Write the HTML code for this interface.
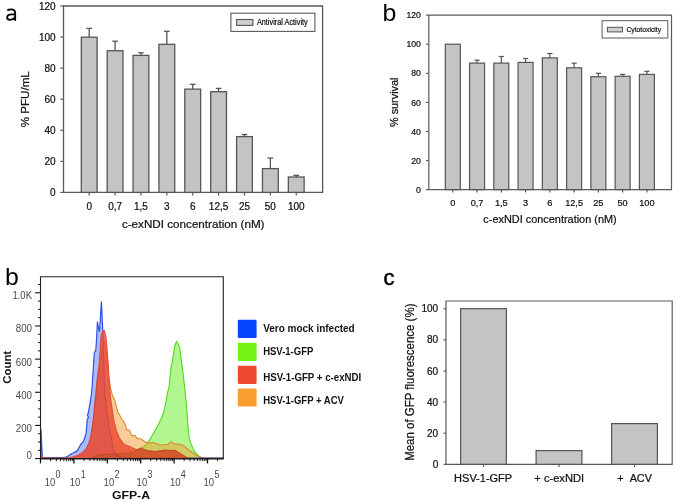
<!DOCTYPE html>
<html><head><meta charset="utf-8"><style>
html,body{margin:0;padding:0;background:#fff;}
svg{display:block;font-family:"Liberation Sans", sans-serif;will-change:transform;}
text.t{stroke:#111;stroke-width:0.22px;}
</style></head><body>
<svg width="675" height="502" viewBox="0 0 675 502">
<rect width="675" height="502" fill="#fff"/>
<path d="M63.5,6.0 H322.6 V192.4 H63.5 Z" fill="none" stroke="#5a5a5a" stroke-width="1.3"/>
<line x1="60.30" y1="192.40" x2="63.50" y2="192.40" stroke="#5a5a5a" stroke-width="1.2"/>
<text class="t" x="55.60" y="196.00" font-size="10" text-anchor="end" fill="#111" font-weight="normal" >0</text>
<line x1="60.30" y1="161.33" x2="63.50" y2="161.33" stroke="#5a5a5a" stroke-width="1.2"/>
<text class="t" x="55.60" y="164.93" font-size="10" text-anchor="end" fill="#111" font-weight="normal" >20</text>
<line x1="60.30" y1="130.27" x2="63.50" y2="130.27" stroke="#5a5a5a" stroke-width="1.2"/>
<text class="t" x="55.60" y="133.87" font-size="10" text-anchor="end" fill="#111" font-weight="normal" >40</text>
<line x1="60.30" y1="99.20" x2="63.50" y2="99.20" stroke="#5a5a5a" stroke-width="1.2"/>
<text class="t" x="55.60" y="102.80" font-size="10" text-anchor="end" fill="#111" font-weight="normal" >60</text>
<line x1="60.30" y1="68.13" x2="63.50" y2="68.13" stroke="#5a5a5a" stroke-width="1.2"/>
<text class="t" x="55.60" y="71.73" font-size="10" text-anchor="end" fill="#111" font-weight="normal" >80</text>
<line x1="60.30" y1="37.07" x2="63.50" y2="37.07" stroke="#5a5a5a" stroke-width="1.2"/>
<text class="t" x="55.60" y="40.67" font-size="10" text-anchor="end" fill="#111" font-weight="normal" >100</text>
<line x1="60.30" y1="6.00" x2="63.50" y2="6.00" stroke="#5a5a5a" stroke-width="1.2"/>
<text class="t" x="55.60" y="9.60" font-size="10" text-anchor="end" fill="#111" font-weight="normal" >120</text>
<line x1="89.20" y1="37.20" x2="89.20" y2="28.40" stroke="#555555" stroke-width="1.3"/>
<line x1="86.40" y1="28.40" x2="92.00" y2="28.40" stroke="#555555" stroke-width="1.3"/>
<rect x="81.30" y="37.20" width="15.80" height="155.20" fill="#c4c4c4" stroke="#555555" stroke-width="1.3" />
<line x1="89.20" y1="192.40" x2="89.20" y2="195.60" stroke="#5a5a5a" stroke-width="1.2"/>
<text class="t" x="89.20" y="210.10" font-size="10" text-anchor="middle" fill="#111" font-weight="normal" >0</text>
<line x1="115.08" y1="50.70" x2="115.08" y2="41.20" stroke="#555555" stroke-width="1.3"/>
<line x1="112.28" y1="41.20" x2="117.88" y2="41.20" stroke="#555555" stroke-width="1.3"/>
<rect x="107.18" y="50.70" width="15.80" height="141.70" fill="#c4c4c4" stroke="#555555" stroke-width="1.3" />
<line x1="115.08" y1="192.40" x2="115.08" y2="195.60" stroke="#5a5a5a" stroke-width="1.2"/>
<text class="t" x="115.08" y="210.10" font-size="10" text-anchor="middle" fill="#111" font-weight="normal" >0,7</text>
<line x1="140.96" y1="55.40" x2="140.96" y2="52.80" stroke="#555555" stroke-width="1.3"/>
<line x1="138.16" y1="52.80" x2="143.76" y2="52.80" stroke="#555555" stroke-width="1.3"/>
<rect x="133.06" y="55.40" width="15.80" height="137.00" fill="#c4c4c4" stroke="#555555" stroke-width="1.3" />
<line x1="140.96" y1="192.40" x2="140.96" y2="195.60" stroke="#5a5a5a" stroke-width="1.2"/>
<text class="t" x="140.96" y="210.10" font-size="10" text-anchor="middle" fill="#111" font-weight="normal" >1,5</text>
<line x1="166.84" y1="44.30" x2="166.84" y2="31.30" stroke="#555555" stroke-width="1.3"/>
<line x1="164.04" y1="31.30" x2="169.64" y2="31.30" stroke="#555555" stroke-width="1.3"/>
<rect x="158.94" y="44.30" width="15.80" height="148.10" fill="#c4c4c4" stroke="#555555" stroke-width="1.3" />
<line x1="166.84" y1="192.40" x2="166.84" y2="195.60" stroke="#5a5a5a" stroke-width="1.2"/>
<text class="t" x="166.84" y="210.10" font-size="10" text-anchor="middle" fill="#111" font-weight="normal" >3</text>
<line x1="192.72" y1="89.10" x2="192.72" y2="84.30" stroke="#555555" stroke-width="1.3"/>
<line x1="189.92" y1="84.30" x2="195.52" y2="84.30" stroke="#555555" stroke-width="1.3"/>
<rect x="184.82" y="89.10" width="15.80" height="103.30" fill="#c4c4c4" stroke="#555555" stroke-width="1.3" />
<line x1="192.72" y1="192.40" x2="192.72" y2="195.60" stroke="#5a5a5a" stroke-width="1.2"/>
<text class="t" x="192.72" y="210.10" font-size="10" text-anchor="middle" fill="#111" font-weight="normal" >6</text>
<line x1="218.60" y1="91.70" x2="218.60" y2="88.40" stroke="#555555" stroke-width="1.3"/>
<line x1="215.80" y1="88.40" x2="221.40" y2="88.40" stroke="#555555" stroke-width="1.3"/>
<rect x="210.70" y="91.70" width="15.80" height="100.70" fill="#c4c4c4" stroke="#555555" stroke-width="1.3" />
<line x1="218.60" y1="192.40" x2="218.60" y2="195.60" stroke="#5a5a5a" stroke-width="1.2"/>
<text class="t" x="218.60" y="210.10" font-size="10" text-anchor="middle" fill="#111" font-weight="normal" >12,5</text>
<line x1="244.48" y1="136.60" x2="244.48" y2="134.50" stroke="#555555" stroke-width="1.3"/>
<line x1="241.68" y1="134.50" x2="247.28" y2="134.50" stroke="#555555" stroke-width="1.3"/>
<rect x="236.58" y="136.60" width="15.80" height="55.80" fill="#c4c4c4" stroke="#555555" stroke-width="1.3" />
<line x1="244.48" y1="192.40" x2="244.48" y2="195.60" stroke="#5a5a5a" stroke-width="1.2"/>
<text class="t" x="244.48" y="210.10" font-size="10" text-anchor="middle" fill="#111" font-weight="normal" >25</text>
<line x1="270.36" y1="168.60" x2="270.36" y2="158.10" stroke="#555555" stroke-width="1.3"/>
<line x1="267.56" y1="158.10" x2="273.16" y2="158.10" stroke="#555555" stroke-width="1.3"/>
<rect x="262.46" y="168.60" width="15.80" height="23.80" fill="#c4c4c4" stroke="#555555" stroke-width="1.3" />
<line x1="270.36" y1="192.40" x2="270.36" y2="195.60" stroke="#5a5a5a" stroke-width="1.2"/>
<text class="t" x="270.36" y="210.10" font-size="10" text-anchor="middle" fill="#111" font-weight="normal" >50</text>
<line x1="296.24" y1="177.00" x2="296.24" y2="175.30" stroke="#555555" stroke-width="1.3"/>
<line x1="293.44" y1="175.30" x2="299.04" y2="175.30" stroke="#555555" stroke-width="1.3"/>
<rect x="288.34" y="177.00" width="15.80" height="15.40" fill="#c4c4c4" stroke="#555555" stroke-width="1.3" />
<line x1="296.24" y1="192.40" x2="296.24" y2="195.60" stroke="#5a5a5a" stroke-width="1.2"/>
<text class="t" x="296.24" y="210.10" font-size="10" text-anchor="middle" fill="#111" font-weight="normal" >100</text>
<text class="t" x="193.20" y="228.30" font-size="11.6" text-anchor="middle" fill="#111" font-weight="normal" textLength="142.60" lengthAdjust="spacingAndGlyphs" >c-exNDI concentration (nM)</text>
<text transform="translate(28.9,99.2) rotate(-90)" font-size="11.8" text-anchor="middle" class="t" fill="#111" textLength="56" lengthAdjust="spacingAndGlyphs">% PFU/mL</text>
<rect x="230.90" y="13.20" width="84.00" height="18.20" fill="#fff" stroke="#5a5a5a" stroke-width="1.1" />
<rect x="236.60" y="19.50" width="16.30" height="5.90" fill="#cfcfcf" stroke="#555555" stroke-width="1.1" />
<text class="t" x="256.90" y="25.00" font-size="8.2" text-anchor="start" fill="#111" font-weight="normal" textLength="50.80" lengthAdjust="spacingAndGlyphs" >Antiviral Activity</text>
<path d="M7.3,10.6 C8.4,9.7 9.6,9.35 11.0,9.35 C13.6,9.35 15.15,10.6 15.15,12.9 V20.8 M15.15,14.4 H11.8 C8.6,14.4 7.15,15.6 7.15,17.5 C7.15,19.0 8.3,19.85 10.1,19.85 C12.2,19.85 14.0,18.9 15.15,17.3" fill="none" stroke="#000" stroke-width="1.9"/>
<path d="M428.8,15.2 H671.5 V189.6 H428.8 Z" fill="none" stroke="#5a5a5a" stroke-width="1.2"/>
<line x1="426.00" y1="189.60" x2="428.80" y2="189.60" stroke="#5a5a5a" stroke-width="1.2"/>
<text class="t" x="420.90" y="192.70" font-size="8.7" text-anchor="end" fill="#111" font-weight="normal" >0</text>
<line x1="426.00" y1="160.53" x2="428.80" y2="160.53" stroke="#5a5a5a" stroke-width="1.2"/>
<text class="t" x="420.90" y="163.63" font-size="8.7" text-anchor="end" fill="#111" font-weight="normal" >20</text>
<line x1="426.00" y1="131.47" x2="428.80" y2="131.47" stroke="#5a5a5a" stroke-width="1.2"/>
<text class="t" x="420.90" y="134.57" font-size="8.7" text-anchor="end" fill="#111" font-weight="normal" >40</text>
<line x1="426.00" y1="102.40" x2="428.80" y2="102.40" stroke="#5a5a5a" stroke-width="1.2"/>
<text class="t" x="420.90" y="105.50" font-size="8.7" text-anchor="end" fill="#111" font-weight="normal" >60</text>
<line x1="426.00" y1="73.33" x2="428.80" y2="73.33" stroke="#5a5a5a" stroke-width="1.2"/>
<text class="t" x="420.90" y="76.43" font-size="8.7" text-anchor="end" fill="#111" font-weight="normal" >80</text>
<line x1="426.00" y1="44.27" x2="428.80" y2="44.27" stroke="#5a5a5a" stroke-width="1.2"/>
<text class="t" x="420.90" y="47.37" font-size="8.7" text-anchor="end" fill="#111" font-weight="normal" >100</text>
<line x1="426.00" y1="15.20" x2="428.80" y2="15.20" stroke="#5a5a5a" stroke-width="1.2"/>
<text class="t" x="420.90" y="18.30" font-size="8.7" text-anchor="end" fill="#111" font-weight="normal" >120</text>
<rect x="445.30" y="44.20" width="15.00" height="145.40" fill="#c4c4c4" stroke="#555555" stroke-width="1.2" />
<line x1="452.80" y1="189.60" x2="452.80" y2="192.40" stroke="#5a5a5a" stroke-width="1.2"/>
<text class="t" x="452.80" y="205.80" font-size="9.2" text-anchor="middle" fill="#111" font-weight="normal" >0</text>
<line x1="477.06" y1="63.10" x2="477.06" y2="60.20" stroke="#555555" stroke-width="1.2"/>
<line x1="474.46" y1="60.20" x2="479.66" y2="60.20" stroke="#555555" stroke-width="1.2"/>
<rect x="469.56" y="63.10" width="15.00" height="126.50" fill="#c4c4c4" stroke="#555555" stroke-width="1.2" />
<line x1="477.06" y1="189.60" x2="477.06" y2="192.40" stroke="#5a5a5a" stroke-width="1.2"/>
<text class="t" x="477.06" y="205.80" font-size="9.2" text-anchor="middle" fill="#111" font-weight="normal" >0,7</text>
<line x1="501.32" y1="63.10" x2="501.32" y2="56.50" stroke="#555555" stroke-width="1.2"/>
<line x1="498.72" y1="56.50" x2="503.92" y2="56.50" stroke="#555555" stroke-width="1.2"/>
<rect x="493.82" y="63.10" width="15.00" height="126.50" fill="#c4c4c4" stroke="#555555" stroke-width="1.2" />
<line x1="501.32" y1="189.60" x2="501.32" y2="192.40" stroke="#5a5a5a" stroke-width="1.2"/>
<text class="t" x="501.32" y="205.80" font-size="9.2" text-anchor="middle" fill="#111" font-weight="normal" >1,5</text>
<line x1="525.58" y1="62.40" x2="525.58" y2="58.50" stroke="#555555" stroke-width="1.2"/>
<line x1="522.98" y1="58.50" x2="528.18" y2="58.50" stroke="#555555" stroke-width="1.2"/>
<rect x="518.08" y="62.40" width="15.00" height="127.20" fill="#c4c4c4" stroke="#555555" stroke-width="1.2" />
<line x1="525.58" y1="189.60" x2="525.58" y2="192.40" stroke="#5a5a5a" stroke-width="1.2"/>
<text class="t" x="525.58" y="205.80" font-size="9.2" text-anchor="middle" fill="#111" font-weight="normal" >3</text>
<line x1="549.84" y1="57.90" x2="549.84" y2="53.50" stroke="#555555" stroke-width="1.2"/>
<line x1="547.24" y1="53.50" x2="552.44" y2="53.50" stroke="#555555" stroke-width="1.2"/>
<rect x="542.34" y="57.90" width="15.00" height="131.70" fill="#c4c4c4" stroke="#555555" stroke-width="1.2" />
<line x1="549.84" y1="189.60" x2="549.84" y2="192.40" stroke="#5a5a5a" stroke-width="1.2"/>
<text class="t" x="549.84" y="205.80" font-size="9.2" text-anchor="middle" fill="#111" font-weight="normal" >6</text>
<line x1="574.10" y1="67.80" x2="574.10" y2="63.20" stroke="#555555" stroke-width="1.2"/>
<line x1="571.50" y1="63.20" x2="576.70" y2="63.20" stroke="#555555" stroke-width="1.2"/>
<rect x="566.60" y="67.80" width="15.00" height="121.80" fill="#c4c4c4" stroke="#555555" stroke-width="1.2" />
<line x1="574.10" y1="189.60" x2="574.10" y2="192.40" stroke="#5a5a5a" stroke-width="1.2"/>
<text class="t" x="574.10" y="205.80" font-size="9.2" text-anchor="middle" fill="#111" font-weight="normal" >12,5</text>
<line x1="598.36" y1="76.70" x2="598.36" y2="73.30" stroke="#555555" stroke-width="1.2"/>
<line x1="595.76" y1="73.30" x2="600.96" y2="73.30" stroke="#555555" stroke-width="1.2"/>
<rect x="590.86" y="76.70" width="15.00" height="112.90" fill="#c4c4c4" stroke="#555555" stroke-width="1.2" />
<line x1="598.36" y1="189.60" x2="598.36" y2="192.40" stroke="#5a5a5a" stroke-width="1.2"/>
<text class="t" x="598.36" y="205.80" font-size="9.2" text-anchor="middle" fill="#111" font-weight="normal" >25</text>
<line x1="622.62" y1="76.30" x2="622.62" y2="74.40" stroke="#555555" stroke-width="1.2"/>
<line x1="620.02" y1="74.40" x2="625.22" y2="74.40" stroke="#555555" stroke-width="1.2"/>
<rect x="615.12" y="76.30" width="15.00" height="113.30" fill="#c4c4c4" stroke="#555555" stroke-width="1.2" />
<line x1="622.62" y1="189.60" x2="622.62" y2="192.40" stroke="#5a5a5a" stroke-width="1.2"/>
<text class="t" x="622.62" y="205.80" font-size="9.2" text-anchor="middle" fill="#111" font-weight="normal" >50</text>
<line x1="646.88" y1="74.40" x2="646.88" y2="71.30" stroke="#555555" stroke-width="1.2"/>
<line x1="644.28" y1="71.30" x2="649.48" y2="71.30" stroke="#555555" stroke-width="1.2"/>
<rect x="639.38" y="74.40" width="15.00" height="115.20" fill="#c4c4c4" stroke="#555555" stroke-width="1.2" />
<line x1="646.88" y1="189.60" x2="646.88" y2="192.40" stroke="#5a5a5a" stroke-width="1.2"/>
<text class="t" x="646.88" y="205.80" font-size="9.2" text-anchor="middle" fill="#111" font-weight="normal" >100</text>
<text class="t" x="550.00" y="223.00" font-size="10.9" text-anchor="middle" fill="#111" font-weight="normal" textLength="133.40" lengthAdjust="spacingAndGlyphs" >c-exNDI concentration (nM)</text>
<text transform="translate(397.7,102.3) rotate(-90)" font-size="11.2" text-anchor="middle" class="t" fill="#111" textLength="49.5" lengthAdjust="spacingAndGlyphs">% survival</text>
<rect x="602.10" y="20.70" width="65.70" height="17.30" fill="#fff" stroke="#5a5a5a" stroke-width="1.0" />
<rect x="607.40" y="27.30" width="15.10" height="4.60" fill="#d0d0d0" stroke="#555555" stroke-width="1.0" />
<text class="t" x="626.40" y="32.10" font-size="7.4" text-anchor="start" fill="#111" font-weight="normal" textLength="34.70" lengthAdjust="spacingAndGlyphs" >Cytotoxicity</text>
<text transform="translate(382.5,20.9) scale(1.08,1)" font-size="23" fill="#000">b</text>
<path d="M446.0,301.0 H672.2 V464.3 H446.0 Z" fill="none" stroke="#5a5a5a" stroke-width="1.2"/>
<line x1="443.50" y1="464.30" x2="446.00" y2="464.30" stroke="#5a5a5a" stroke-width="1.2"/>
<text class="t" x="438.20" y="467.90" font-size="10" text-anchor="end" fill="#111" font-weight="normal" >0</text>
<line x1="443.50" y1="433.19" x2="446.00" y2="433.19" stroke="#5a5a5a" stroke-width="1.2"/>
<text class="t" x="438.20" y="436.79" font-size="10" text-anchor="end" fill="#111" font-weight="normal" >20</text>
<line x1="443.50" y1="402.08" x2="446.00" y2="402.08" stroke="#5a5a5a" stroke-width="1.2"/>
<text class="t" x="438.20" y="405.68" font-size="10" text-anchor="end" fill="#111" font-weight="normal" >40</text>
<line x1="443.50" y1="370.97" x2="446.00" y2="370.97" stroke="#5a5a5a" stroke-width="1.2"/>
<text class="t" x="438.20" y="374.57" font-size="10" text-anchor="end" fill="#111" font-weight="normal" >60</text>
<line x1="443.50" y1="339.86" x2="446.00" y2="339.86" stroke="#5a5a5a" stroke-width="1.2"/>
<text class="t" x="438.20" y="343.46" font-size="10" text-anchor="end" fill="#111" font-weight="normal" >80</text>
<line x1="443.50" y1="308.75" x2="446.00" y2="308.75" stroke="#5a5a5a" stroke-width="1.2"/>
<text class="t" x="438.20" y="312.35" font-size="10" text-anchor="end" fill="#111" font-weight="normal" >100</text>
<rect x="460.60" y="308.70" width="45.80" height="155.60" fill="#c4c4c4" stroke="#555555" stroke-width="1.2" />
<line x1="483.50" y1="464.30" x2="483.50" y2="467.10" stroke="#5a5a5a" stroke-width="1.2"/>
<text class="t" x="454.10" y="482.20" font-size="10" text-anchor="start" fill="#111" font-weight="normal" textLength="58.10" lengthAdjust="spacingAndGlyphs" >HSV-1-GFP</text>
<rect x="536.10" y="450.60" width="45.80" height="13.70" fill="#c4c4c4" stroke="#555555" stroke-width="1.2" />
<line x1="559.00" y1="464.30" x2="559.00" y2="467.10" stroke="#5a5a5a" stroke-width="1.2"/>
<text class="t" x="534.30" y="482.20" font-size="10" text-anchor="start" fill="#111" font-weight="normal" textLength="49.80" lengthAdjust="spacingAndGlyphs" >+ c-exNDI</text>
<rect x="611.60" y="423.60" width="45.80" height="40.70" fill="#c4c4c4" stroke="#555555" stroke-width="1.2" />
<line x1="634.50" y1="464.30" x2="634.50" y2="467.10" stroke="#5a5a5a" stroke-width="1.2"/>
<text class="t" x="617.30" y="482.20" font-size="10" text-anchor="start" fill="#111" font-weight="normal" textLength="34.60" lengthAdjust="spacingAndGlyphs" >+ &#160;ACV</text>
<text transform="translate(413.7,382.2) rotate(-90)" font-size="12" text-anchor="middle" class="t" fill="#111" textLength="157.3" lengthAdjust="spacingAndGlyphs">Mean of GFP fluorescence (%)</text>
<text x="383.6" y="285.1" font-size="22" fill="#000" stroke="#000" stroke-width="0.5">c</text>
<text transform="translate(5.0,284.9) scale(1.08,1)" font-size="23" fill="#000">b</text>
<polygon points="40.8,458.6 70.0,458.3 90.0,458.0 95.0,456.5 105.0,454.5 120.0,453.0 130.0,451.5 138.0,449.0 143.4,447.0 147.0,443.5 150.4,438.7 153.9,432.5 156.9,427.4 159.5,422.0 162.5,416.0 164.2,410.0 165.3,404.8 166.3,400.0 167.5,393.0 169.1,386.9 170.4,373.9 171.4,364.8 172.3,362.2 173.6,353.1 174.9,345.4 176.6,341.5 178.0,343.5 178.8,345.4 179.7,348.0 181.4,360.9 183.1,373.9 184.6,386.9 185.9,400.0 186.8,409.0 187.7,423.0 188.5,432.0 189.4,438.7 191.0,444.0 193.6,450.0 196.0,453.5 198.5,455.8 201.0,457.5 205.0,458.3 223.0,458.3 223.0,458.6" fill="#66ee22" fill-opacity="0.5" stroke="#5ed82a" stroke-width="1.2"/>
<polygon points="40.8,458.6 60.0,458.0 75.0,457.8 82.0,455.0 86.0,450.0 90.0,440.0 92.0,430.0 94.0,415.0 95.0,400.0 96.0,390.0 97.5,380.0 100.0,366.0 102.0,352.0 103.5,345.0 104.5,342.0 106.0,350.0 107.5,365.0 109.0,378.0 110.5,388.0 112.2,394.6 113.4,396.9 114.6,399.9 115.8,404.1 117.0,408.9 118.1,412.5 119.9,415.4 121.7,419.6 123.5,420.8 124.7,423.2 125.9,426.8 127.1,430.4 128.9,429.8 130.1,431.6 131.3,435.1 133.1,435.7 134.9,435.1 136.7,438.1 138.4,438.7 140.8,438.7 143.2,440.5 145.6,442.3 147.5,442.5 149.9,443.1 152.3,442.5 157.0,443.7 160.5,445.0 167.7,444.5 171.2,441.9 174.8,444.3 178.3,444.0 183.0,445.2 189.0,450.2 196.1,455.0 200.8,457.3 203.0,458.3 223.0,458.3 223.0,458.6" fill="#f59a30" fill-opacity="0.5" stroke="#d98a2e" stroke-width="1.1"/>
<polygon points="40.8,458.6 41.0,429.5 42.3,457.3 58.0,457.6 63.3,457.6 65.9,457.0 68.5,455.7 71.1,454.0 73.7,452.7 76.3,451.4 78.2,449.4 80.1,445.6 81.4,443.6 83.4,441.7 84.7,437.8 86.0,433.9 86.6,427.4 87.3,419.0 88.6,417.7 87.4,415.1 87.9,414.4 89.2,408.0 90.5,400.2 91.5,394.0 92.2,385.0 92.8,375.8 93.6,363.9 94.3,352.5 95.7,350.7 96.2,345.0 96.7,337.0 97.4,321.7 98.3,327.0 99.4,331.8 100.4,318.0 101.4,301.5 102.2,318.0 102.9,333.8 103.2,345.0 103.8,360.0 104.3,380.0 105.2,396.0 106.8,412.0 109.2,428.0 112.4,444.0 114.0,452.0 117.0,455.5 122.0,457.3 130.0,457.8 160.0,458.0 223.0,458.0 223.0,458.6" fill="#3355ee" fill-opacity="0.4" stroke="#2f50e6" stroke-width="1.2"/>
<polygon points="40.8,458.6 41.0,453.5 43.0,457.8 60.0,458.0 67.2,457.9 72.4,457.0 77.6,455.3 82.7,452.0 86.6,448.2 89.2,442.9 91.2,433.9 93.1,420.9 94.4,408.0 96.0,395.0 96.9,381.8 97.9,372.2 99.1,363.9 99.9,352.0 100.5,340.0 101.5,334.0 103.0,331.0 104.3,330.0 105.2,333.0 106.5,340.0 107.4,352.0 108.3,363.9 108.9,375.8 109.6,385.0 110.4,396.9 112.2,408.9 114.0,420.8 116.4,430.4 119.3,437.5 123.5,443.5 127.0,445.5 130.0,446.5 134.0,448.5 136.8,449.8 141.6,448.2 145.0,449.8 148.7,450.8 155.8,451.4 161.7,450.5 164.1,450.0 170.0,450.3 174.8,450.2 177.1,451.4 182.0,454.5 186.6,457.3 190.0,458.3 223.0,458.3 223.0,458.6" fill="#ee4830" fill-opacity="0.82" stroke="#d84030" stroke-width="0.8"/>
<polygon points="88.0,458.6 92.0,457.2 97.0,455.4 105.0,454.2 120.0,454.0 128.0,453.6 133.0,452.5 136.8,450.0 141.6,448.4 145.0,450.0 148.7,451.0 155.8,451.6 161.7,450.7 164.1,450.2 170.0,450.5 174.8,450.4 177.1,451.6 182.0,454.7 186.6,457.5 189.0,458.6" fill="#804000" fill-opacity="0.2" stroke="#b04818" stroke-opacity="0.6" stroke-width="0.9"/>
<path d="M40.5,276.7 H223.3 V458.6 H40.5 Z" fill="none" stroke="#222" stroke-width="1.1"/>
<line x1="35.10" y1="458.60" x2="40.50" y2="458.60" stroke="#111" stroke-width="1.1"/>
<line x1="38.10" y1="450.31" x2="40.50" y2="450.31" stroke="#111" stroke-width="1.0"/>
<line x1="38.10" y1="442.02" x2="40.50" y2="442.02" stroke="#111" stroke-width="1.0"/>
<line x1="38.10" y1="433.73" x2="40.50" y2="433.73" stroke="#111" stroke-width="1.0"/>
<line x1="35.10" y1="425.44" x2="40.50" y2="425.44" stroke="#111" stroke-width="1.1"/>
<line x1="38.10" y1="417.15" x2="40.50" y2="417.15" stroke="#111" stroke-width="1.0"/>
<line x1="38.10" y1="408.86" x2="40.50" y2="408.86" stroke="#111" stroke-width="1.0"/>
<line x1="38.10" y1="400.57" x2="40.50" y2="400.57" stroke="#111" stroke-width="1.0"/>
<line x1="35.10" y1="392.28" x2="40.50" y2="392.28" stroke="#111" stroke-width="1.1"/>
<line x1="38.10" y1="383.99" x2="40.50" y2="383.99" stroke="#111" stroke-width="1.0"/>
<line x1="38.10" y1="375.70" x2="40.50" y2="375.70" stroke="#111" stroke-width="1.0"/>
<line x1="38.10" y1="367.41" x2="40.50" y2="367.41" stroke="#111" stroke-width="1.0"/>
<line x1="35.10" y1="359.12" x2="40.50" y2="359.12" stroke="#111" stroke-width="1.1"/>
<line x1="38.10" y1="350.83" x2="40.50" y2="350.83" stroke="#111" stroke-width="1.0"/>
<line x1="38.10" y1="342.54" x2="40.50" y2="342.54" stroke="#111" stroke-width="1.0"/>
<line x1="38.10" y1="334.25" x2="40.50" y2="334.25" stroke="#111" stroke-width="1.0"/>
<line x1="35.10" y1="325.96" x2="40.50" y2="325.96" stroke="#111" stroke-width="1.1"/>
<line x1="38.10" y1="317.67" x2="40.50" y2="317.67" stroke="#111" stroke-width="1.0"/>
<line x1="38.10" y1="309.38" x2="40.50" y2="309.38" stroke="#111" stroke-width="1.0"/>
<line x1="38.10" y1="301.09" x2="40.50" y2="301.09" stroke="#111" stroke-width="1.0"/>
<line x1="35.10" y1="292.80" x2="40.50" y2="292.80" stroke="#111" stroke-width="1.1"/>
<line x1="38.10" y1="284.51" x2="40.50" y2="284.51" stroke="#111" stroke-width="1.0"/>
<text x="32.00" y="459.00" font-size="10" text-anchor="end" fill="#484848" font-weight="normal" textLength="5.40" lengthAdjust="spacingAndGlyphs" >0</text>
<text x="32.00" y="431.84" font-size="10" text-anchor="end" fill="#484848" font-weight="normal" textLength="16.20" lengthAdjust="spacingAndGlyphs" >200</text>
<text x="32.00" y="398.68" font-size="10" text-anchor="end" fill="#484848" font-weight="normal" textLength="16.20" lengthAdjust="spacingAndGlyphs" >400</text>
<text x="32.00" y="365.52" font-size="10" text-anchor="end" fill="#484848" font-weight="normal" textLength="16.20" lengthAdjust="spacingAndGlyphs" >600</text>
<text x="32.00" y="332.36" font-size="10" text-anchor="end" fill="#484848" font-weight="normal" textLength="16.20" lengthAdjust="spacingAndGlyphs" >800</text>
<text x="32.00" y="299.20" font-size="10" text-anchor="end" fill="#484848" font-weight="normal" textLength="19.60" lengthAdjust="spacingAndGlyphs" >1.0K</text>
<line x1="40.50" y1="458.60" x2="40.50" y2="463.40" stroke="#111" stroke-width="1.3"/>
<line x1="50.55" y1="458.60" x2="50.55" y2="461.20" stroke="#111" stroke-width="0.9"/>
<line x1="56.44" y1="458.60" x2="56.44" y2="461.20" stroke="#111" stroke-width="0.9"/>
<line x1="60.61" y1="458.60" x2="60.61" y2="461.20" stroke="#111" stroke-width="0.9"/>
<line x1="63.85" y1="458.60" x2="63.85" y2="461.20" stroke="#111" stroke-width="0.9"/>
<line x1="66.49" y1="458.60" x2="66.49" y2="461.20" stroke="#111" stroke-width="0.9"/>
<line x1="68.73" y1="458.60" x2="68.73" y2="461.20" stroke="#111" stroke-width="0.9"/>
<line x1="70.66" y1="458.60" x2="70.66" y2="461.20" stroke="#111" stroke-width="0.9"/>
<line x1="72.37" y1="458.60" x2="72.37" y2="461.20" stroke="#111" stroke-width="0.9"/>
<line x1="73.90" y1="458.60" x2="73.90" y2="463.40" stroke="#111" stroke-width="1.3"/>
<line x1="83.95" y1="458.60" x2="83.95" y2="461.20" stroke="#111" stroke-width="0.9"/>
<line x1="89.84" y1="458.60" x2="89.84" y2="461.20" stroke="#111" stroke-width="0.9"/>
<line x1="94.01" y1="458.60" x2="94.01" y2="461.20" stroke="#111" stroke-width="0.9"/>
<line x1="97.25" y1="458.60" x2="97.25" y2="461.20" stroke="#111" stroke-width="0.9"/>
<line x1="99.89" y1="458.60" x2="99.89" y2="461.20" stroke="#111" stroke-width="0.9"/>
<line x1="102.13" y1="458.60" x2="102.13" y2="461.20" stroke="#111" stroke-width="0.9"/>
<line x1="104.06" y1="458.60" x2="104.06" y2="461.20" stroke="#111" stroke-width="0.9"/>
<line x1="105.77" y1="458.60" x2="105.77" y2="461.20" stroke="#111" stroke-width="0.9"/>
<line x1="107.30" y1="458.60" x2="107.30" y2="463.40" stroke="#111" stroke-width="1.3"/>
<line x1="117.35" y1="458.60" x2="117.35" y2="461.20" stroke="#111" stroke-width="0.9"/>
<line x1="123.24" y1="458.60" x2="123.24" y2="461.20" stroke="#111" stroke-width="0.9"/>
<line x1="127.41" y1="458.60" x2="127.41" y2="461.20" stroke="#111" stroke-width="0.9"/>
<line x1="130.65" y1="458.60" x2="130.65" y2="461.20" stroke="#111" stroke-width="0.9"/>
<line x1="133.29" y1="458.60" x2="133.29" y2="461.20" stroke="#111" stroke-width="0.9"/>
<line x1="135.53" y1="458.60" x2="135.53" y2="461.20" stroke="#111" stroke-width="0.9"/>
<line x1="137.46" y1="458.60" x2="137.46" y2="461.20" stroke="#111" stroke-width="0.9"/>
<line x1="139.17" y1="458.60" x2="139.17" y2="461.20" stroke="#111" stroke-width="0.9"/>
<line x1="140.70" y1="458.60" x2="140.70" y2="463.40" stroke="#111" stroke-width="1.3"/>
<line x1="150.75" y1="458.60" x2="150.75" y2="461.20" stroke="#111" stroke-width="0.9"/>
<line x1="156.64" y1="458.60" x2="156.64" y2="461.20" stroke="#111" stroke-width="0.9"/>
<line x1="160.81" y1="458.60" x2="160.81" y2="461.20" stroke="#111" stroke-width="0.9"/>
<line x1="164.05" y1="458.60" x2="164.05" y2="461.20" stroke="#111" stroke-width="0.9"/>
<line x1="166.69" y1="458.60" x2="166.69" y2="461.20" stroke="#111" stroke-width="0.9"/>
<line x1="168.93" y1="458.60" x2="168.93" y2="461.20" stroke="#111" stroke-width="0.9"/>
<line x1="170.86" y1="458.60" x2="170.86" y2="461.20" stroke="#111" stroke-width="0.9"/>
<line x1="172.57" y1="458.60" x2="172.57" y2="461.20" stroke="#111" stroke-width="0.9"/>
<line x1="174.10" y1="458.60" x2="174.10" y2="463.40" stroke="#111" stroke-width="1.3"/>
<line x1="184.15" y1="458.60" x2="184.15" y2="461.20" stroke="#111" stroke-width="0.9"/>
<line x1="190.04" y1="458.60" x2="190.04" y2="461.20" stroke="#111" stroke-width="0.9"/>
<line x1="194.21" y1="458.60" x2="194.21" y2="461.20" stroke="#111" stroke-width="0.9"/>
<line x1="197.45" y1="458.60" x2="197.45" y2="461.20" stroke="#111" stroke-width="0.9"/>
<line x1="200.09" y1="458.60" x2="200.09" y2="461.20" stroke="#111" stroke-width="0.9"/>
<line x1="202.33" y1="458.60" x2="202.33" y2="461.20" stroke="#111" stroke-width="0.9"/>
<line x1="204.26" y1="458.60" x2="204.26" y2="461.20" stroke="#111" stroke-width="0.9"/>
<line x1="205.97" y1="458.60" x2="205.97" y2="461.20" stroke="#111" stroke-width="0.9"/>
<line x1="207.50" y1="458.60" x2="207.50" y2="463.40" stroke="#111" stroke-width="1.3"/>
<line x1="217.55" y1="458.60" x2="217.55" y2="461.20" stroke="#111" stroke-width="0.9"/>
<text x="44.70" y="486.00" font-size="10.2" text-anchor="start" fill="#484848" font-weight="normal" textLength="10.60" lengthAdjust="spacingAndGlyphs" >10</text>
<text x="55.60" y="478.20" font-size="10.0" text-anchor="start" fill="#484848" font-weight="normal" textLength="5.00" lengthAdjust="spacingAndGlyphs" >0</text>
<text x="69.80" y="486.00" font-size="10.2" text-anchor="start" fill="#484848" font-weight="normal" textLength="10.60" lengthAdjust="spacingAndGlyphs" >10</text>
<text x="80.70" y="478.20" font-size="10.0" text-anchor="start" fill="#484848" font-weight="normal" textLength="5.00" lengthAdjust="spacingAndGlyphs" >1</text>
<text x="103.60" y="486.00" font-size="10.2" text-anchor="start" fill="#484848" font-weight="normal" textLength="10.60" lengthAdjust="spacingAndGlyphs" >10</text>
<text x="114.50" y="478.20" font-size="10.0" text-anchor="start" fill="#484848" font-weight="normal" textLength="5.00" lengthAdjust="spacingAndGlyphs" >2</text>
<text x="136.60" y="486.00" font-size="10.2" text-anchor="start" fill="#484848" font-weight="normal" textLength="10.60" lengthAdjust="spacingAndGlyphs" >10</text>
<text x="147.50" y="478.20" font-size="10.0" text-anchor="start" fill="#484848" font-weight="normal" textLength="5.00" lengthAdjust="spacingAndGlyphs" >3</text>
<text x="169.90" y="486.00" font-size="10.2" text-anchor="start" fill="#484848" font-weight="normal" textLength="10.60" lengthAdjust="spacingAndGlyphs" >10</text>
<text x="180.80" y="478.20" font-size="10.0" text-anchor="start" fill="#484848" font-weight="normal" textLength="5.00" lengthAdjust="spacingAndGlyphs" >4</text>
<text x="203.50" y="486.00" font-size="10.2" text-anchor="start" fill="#484848" font-weight="normal" textLength="10.60" lengthAdjust="spacingAndGlyphs" >10</text>
<text x="214.40" y="478.20" font-size="10.0" text-anchor="start" fill="#484848" font-weight="normal" textLength="5.00" lengthAdjust="spacingAndGlyphs" >5</text>
<text x="111.90" y="498.80" font-size="11.0" text-anchor="start" fill="#111" font-weight="bold" textLength="38.20" lengthAdjust="spacingAndGlyphs" >GFP-A</text>
<text transform="translate(10.8,367.3) rotate(-90)" font-size="11.4" text-anchor="middle" fill="#111" font-weight="bold" textLength="32.8" lengthAdjust="spacingAndGlyphs">Count</text>
<rect x="237.8" y="319.80" width="18.8" height="18.2" rx="1.2" fill="#0646ff"/>
<text x="263.20" y="332.20" font-size="10.4" text-anchor="start" fill="#111" font-weight="bold" textLength="91.50" lengthAdjust="spacingAndGlyphs" >Vero mock infected</text>
<rect x="237.8" y="342.80" width="18.8" height="18.2" rx="1.2" fill="#77f216"/>
<text x="263.20" y="355.00" font-size="10.4" text-anchor="start" fill="#111" font-weight="bold" textLength="50.10" lengthAdjust="spacingAndGlyphs" >HSV-1-GFP</text>
<rect x="237.8" y="365.70" width="18.8" height="18.2" rx="1.2" fill="#ee4830"/>
<text x="263.20" y="381.00" font-size="10.4" text-anchor="start" fill="#111" font-weight="bold" textLength="98.10" lengthAdjust="spacingAndGlyphs" >HSV-1-GFP + c-exNDI</text>
<rect x="237.8" y="388.40" width="18.8" height="18.2" rx="1.2" fill="#f89e30"/>
<text x="263.20" y="404.00" font-size="10.4" text-anchor="start" fill="#111" font-weight="bold" textLength="80.80" lengthAdjust="spacingAndGlyphs" >HSV-1-GFP + ACV</text>
</svg>
</body></html>
